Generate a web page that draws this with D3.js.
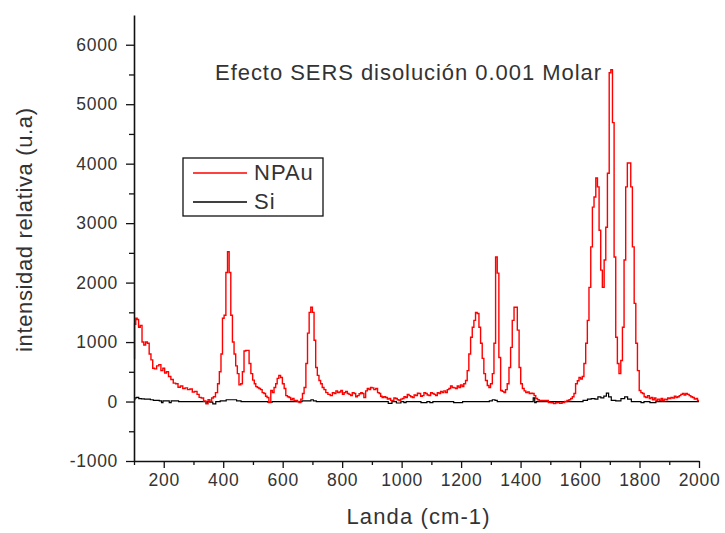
<!DOCTYPE html>
<html>
<head>
<meta charset="utf-8">
<script src="https://cdn.jsdelivr.net/npm/d3@7"></script>
<style>
  body { margin: 0; background: #fff; }
  svg { font-family: "Liberation Sans", Arial, sans-serif; }
</style>
</head>
<body>
<svg id="chart"></svg>
<script>
const width = 725;
const height = 533;

// wavenumber (cm-1) and intensity for NPAu
const npauX = [100,104,108,113,118,124,130,136,142,148,154,160,166,172,180,187,194,200,206,212,220,228,236,244,252,260,268,276,284,292,300,308,316,322,330,338,346,352,358,364,370,378,384,390,395,400,406,412,417,423,428,434,439,445,450,456,462,467,473,479,484,490,496,502,507,512,517,523,528,534,540,545,550,557,563,568,574,579,584,590,596,602,608,613,619,624,630,635,641,647,652,658,664,669,675,681,686,692,697,703,708,714,719,725,730,736,742,748,756,764,770,776,782,787,793,798,804,809,815,820,826,831,837,843,848,854,860,865,870,876,882,887,893,898,903,910,916,922,927,932,937,943,949,955,960,966,971,977,983,988,994,1000,1005,1011,1016,1022,1028,1033,1039,1045,1050,1056,1061,1067,1072,1078,1083,1089,1095,1100,1106,1112,1117,1123,1128,1134,1139,1145,1151,1156,1162,1167,1173,1179,1184,1190,1195,1201,1206,1212,1218,1223,1229,1235,1240,1246,1251,1257,1263,1268,1274,1279,1285,1291,1296,1302,1308,1313,1319,1324,1330,1336,1341,1347,1352,1358,1364,1369,1375,1381,1386,1392,1398,1403,1409,1415,1420,1426,1432,1437,1443,1448,1454,1460,1465,1476,1488,1499,1507,1515,1521,1527,1535,1544,1552,1560,1566,1571,1577,1582,1588,1594,1599,1605,1610,1616,1622,1627,1633,1639,1644,1650,1656,1661,1667,1672,1678,1684,1689,1695,1701,1706,1712,1717,1723,1728,1734,1740,1745,1751,1756,1762,1768,1773,1779,1785,1790,1796,1802,1807,1813,1818,1824,1830,1836,1841,1847,1852,1858,1864,1870,1875,1880,1886,1892,1897,1903,1908,1914,1920,1925,1931,1936,1942,1947,1953,1958,1964,1970,1975,1981,1987,1992,1998,2000];
const npauY = [720,1300,1400,1380,1250,1280,1000,950,1000,980,800,700,560,550,600,620,520,560,480,500,420,370,310,300,240,260,220,230,200,210,160,170,120,70,60,10,-40,30,0,60,80,150,300,500,800,1400,1450,2170,2520,2170,1450,1000,800,600,470,280,300,500,850,860,860,640,470,360,300,250,236,220,200,150,135,90,67,-17,185,150,236,300,390,440,405,300,220,100,80,67,30,50,20,17,0,-17,40,135,236,640,1150,1500,1585,1500,1030,573,440,354,300,236,200,150,120,100,150,135,180,150,160,185,120,150,170,135,120,100,150,135,80,100,130,150,135,67,180,220,200,236,230,200,220,150,135,90,67,80,67,40,50,20,17,60,50,30,17,40,50,80,67,120,100,80,67,110,100,140,135,90,100,150,135,110,100,150,135,120,100,150,135,170,150,180,150,200,220,260,236,230,220,260,236,280,253,300,354,520,800,1080,1250,1365,1500,1480,1250,980,725,470,354,270,236,300,470,980,2430,2160,740,185,170,150,200,300,573,910,1365,1585,1585,1200,573,300,220,180,150,160,135,140,135,100,50,30,17,20,17,-17,-20,-35,-20,-17,-30,-17,0,17,30,50,80,135,300,350,405,380,420,640,980,1365,1920,2600,3270,3440,3760,3610,2880,2210,1920,2380,2930,3840,5530,5580,4690,2430,1080,640,470,690,1250,2380,3610,4010,4010,3610,2600,1650,980,520,185,150,135,80,67,100,50,70,30,60,17,40,20,50,17,40,30,60,50,70,60,90,67,80,100,120,135,110,135,120,100,80,67,40,50,17,17];

// wavenumber and intensity for Si
const siX = [100,106,112,120,130,140,150,160,170,180,190,195,200,215,222,228,240,260,280,300,320,340,345,350,360,370,380,400,420,440,450,470,500,540,560,570,600,640,690,700,706,720,800,850,900,950,960,975,990,1005,1010,1020,1050,1080,1090,1100,1110,1150,1200,1210,1290,1300,1310,1318,1325,1350,1400,1440,1445,1450,1455,1500,1600,1620,1630,1645,1655,1665,1675,1685,1692,1700,1710,1730,1745,1755,1765,1780,1800,1810,1820,1850,1860,1900,1950,2000];
const siY = [30,60,70,50,45,40,40,30,20,20,10,-20,10,10,-20,10,10,0,0,0,0,0,-30,0,-10,-40,0,10,30,30,10,0,0,0,-10,0,0,0,10,30,10,0,0,0,0,0,-30,0,-25,0,-20,0,0,-20,0,-20,0,0,-20,0,0,10,30,20,0,0,0,0,60,-20,0,0,0,20,40,50,40,80,60,90,140,80,20,10,50,80,40,0,0,-20,0,-20,0,0,0,0];

const seriesNames = ['NPAu', 'Si'];
const seriesColours = ['#ff0000', '#000000'];
const yTicks = d3.range(-1000, 6001, 500);
const xTicks = d3.range(100, 2001, 100);

const svg = d3.select('#chart')
    .attr('width', width)
    .attr('height', height);

const scaleX = d3.scaleLinear()
    .domain([100, 2000])
    .range([134, 699]);
const scaleY = d3.scaleLinear()
    .domain([-1000, 6500])
    .range([461, 15]);

const line = d3.line()
    .x(d => scaleX(d[0]))
    .y(d => scaleY(d[1]))
    .curve(d3.curveStep);

const npau = d3.zip(npauX, npauY);
const si = d3.zip(siX, siY);

svg.append('path')
    .datum(si)
    .attr('d', line)
    .attr('fill', 'none')
    .attr('stroke', seriesColours[1])
    .attr('stroke-width', 1.2);

svg.append('path')
    .datum(npau)
    .attr('d', line)
    .attr('fill', 'none')
    .attr('stroke', seriesColours[0])
    .attr('stroke-width', 1.4);

// axes: major ticks every 1000 / 200, minor in between
const yAxis = d3.axisLeft(scaleY)
    .tickValues(yTicks)
    .tickSize(8)
    .tickPadding(8)
    .tickSizeOuter(0)
    .tickFormat(d => d % 1000 === 0 ? String(d) : '');
const xAxis = d3.axisBottom(scaleX)
    .tickValues(xTicks)
    .tickSize(7)
    .tickPadding(6)
    .tickSizeOuter(0)
    .tickFormat(d => d % 200 === 0 ? String(d) : '');

const gy = svg.append('g').attr('transform', 'translate(134,0)').call(yAxis);
const gx = svg.append('g').attr('transform', 'translate(0,461)').call(xAxis);

gy.selectAll('.tick').filter(d => d % 1000 !== 0)
    .select('line').attr('x2', -5);
gx.selectAll('.tick').filter(d => d % 200 !== 0)
    .select('line').attr('y2', 4);

svg.selectAll('.domain')
    .attr('stroke', '#111')
    .attr('stroke-width', 1.6);
svg.selectAll('.tick line')
    .attr('stroke', '#111')
    .attr('stroke-width', 1.3);

svg.selectAll('.tick text')
    .attr('fill', '#333')
    .style('font-size', '17.5px')
    .style('letter-spacing', '0.7px')
    .style('font-family', '"Liberation Sans", Arial, sans-serif');

// labels
svg.append('text')
    .attr('x', 408)
    .attr('y', 80)
    .attr('text-anchor', 'middle')
    .attr('fill', '#333')
    .attr('textLength', 386)
    .attr('lengthAdjust', 'spacing')
    .style('font-size', '22px')
    .text('Efecto SERS disolución 0.001 Molar');

svg.append('text')
    .attr('transform', 'translate(32,230) rotate(-90)')
    .attr('text-anchor', 'middle')
    .attr('fill', '#333')
    .attr('textLength', 244)
    .attr('lengthAdjust', 'spacing')
    .style('font-size', '22px')
    .text('intensidad relativa (u.a)');

svg.append('text')
    .attr('x', 418)
    .attr('y', 524)
    .attr('text-anchor', 'middle')
    .attr('fill', '#333')
    .attr('textLength', 143)
    .attr('lengthAdjust', 'spacing')
    .style('font-size', '22px')
    .text('Landa (cm-1)');

// legend
const legend = svg.append('g').attr('transform', 'translate(183,158)');
legend.append('rect')
    .attr('width', 140)
    .attr('height', 58)
    .attr('fill', '#fff')
    .attr('stroke', '#111')
    .attr('stroke-width', 1.3);

seriesNames.forEach((name, i) => {
  const yy = 15 + i * 29;
  legend.append('line')
      .attr('x1', 10)
      .attr('x2', 64)
      .attr('y1', yy)
      .attr('y2', yy)
      .attr('stroke', seriesColours[i])
      .attr('stroke-width', 1.3);
  legend.append('text')
      .attr('x', 71)
      .attr('y', yy + 7)
      .attr('fill', '#333')
      .style('font-size', '22px')
      .style('letter-spacing', '1px')
      .text(name);
});
</script>
</body>
</html>
